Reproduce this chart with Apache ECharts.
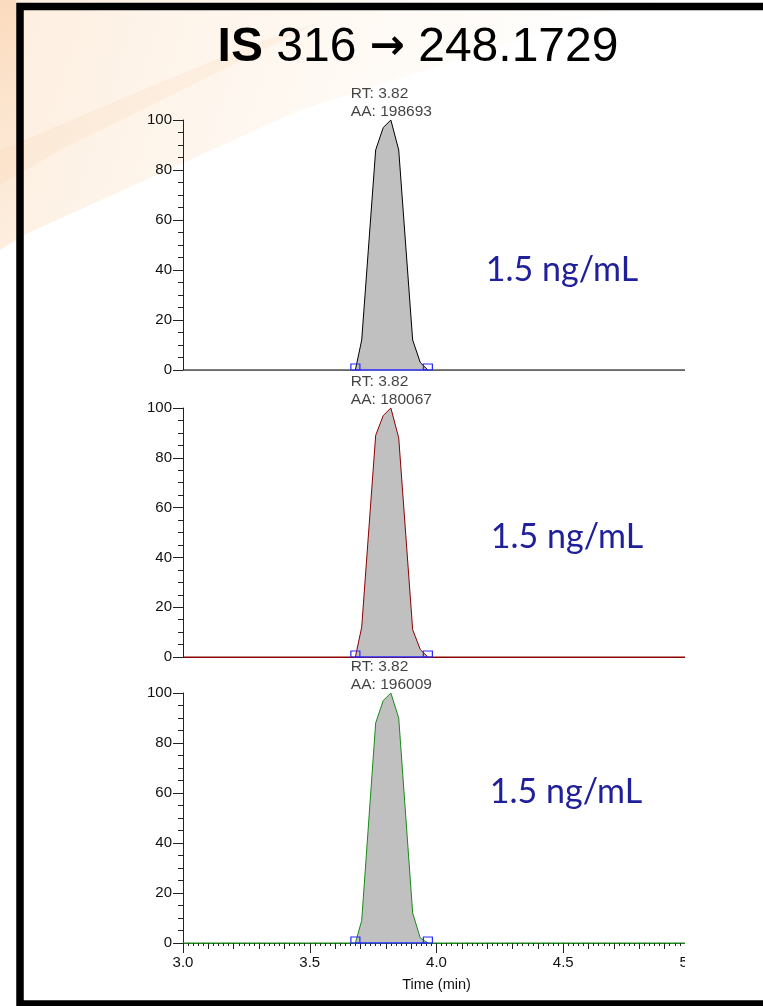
<!DOCTYPE html>
<html>
<head>
<meta charset="utf-8">
<script src="https://cdn.jsdelivr.net/npm/echarts@6/dist/echarts.min.js"></script>
<style>
  html, body { margin: 0; padding: 0; background: #fff; }
  #main { width: 763px; height: 1006px; }
</style>
</head>
<body>
<div id="main"></div>
<script>
  // retention time (min) of the trace vertices
  const timeList = [3.0, 3.68, 3.705, 3.76, 3.79, 3.82, 3.851, 3.906, 3.936, 3.966, 5.0];
  // relative abundance (%) for the three injections
  const traceTop = [0, 0, 12, 88, 97, 100, 88, 12, 3, 0, 0];
  const traceMid = [0, 0, 12, 89, 97, 100, 88, 11, 3, 0, 0];
  const traceBot = [0, 0, 9, 88, 97, 100, 90, 12, 2, 0, 0];
  // integration limits
  const peakStart = 3.68;
  const peakEnd = 3.966;
  const rtList = ['3.82', '3.82', '3.82'];
  const areaList = ['198693', '180067', '196009'];
  const concList = ['1.5 ng/mL', '1.5 ng/mL', '1.5 ng/mL'];
  const yTicks = [0, 20, 40, 60, 80, 100];
  const xTicks = [3.0, 3.5, 4.0, 4.5, 5.0];

  const FONT = '"Liberation Sans", Arial, sans-serif';
  const myChart = echarts.init(document.getElementById('main'), null, { renderer: 'canvas' });

  const panels = [
    { top: 120, height: 250, data: traceTop, color: '#000000', axisColor: '#888888', offset: 2, txt: [562, 270] },
    { top: 408, height: 249, data: traceMid, color: '#8b0000', axisColor: '#8b0000', offset: 0, txt: [567, 537] },
    { top: 693, height: 250, data: traceBot, color: '#1a8a1a', axisColor: '#1a8a1a', offset: 0, txt: [566, 792] }
  ];

  let grid = [], xAxis = [], yAxis = [], series = [], texts = [];

  panels.forEach((p, i) => {
    grid.push({ left: 183, top: p.top, width: 507, height: p.height });

    xAxis.push({
      type: 'value', gridIndex: i, position: 'bottom', offset: p.offset,
      min: xTicks[0], max: xTicks[xTicks.length - 1],
      interval: i === 2 ? 0.1 : 0.5,
      axisLine: { show: true, lineStyle: { color: p.axisColor, width: 1 } },
      axisTick: { show: i === 2, length: 6, lineStyle: { color: '#222' } },
      minorTick: { show: i === 2, splitNumber: 5, length: 3, lineStyle: { color: '#222' } },
      axisLabel: { show: false },
      splitLine: { show: false }
    });

    yAxis.push({
      type: 'value', gridIndex: i,
      min: yTicks[0], max: yTicks[yTicks.length - 1], interval: 20,
      axisLine: { show: true, lineStyle: { color: '#222', width: 1 } },
      axisTick: { show: true, length: 10, lineStyle: { color: '#222' } },
      minorTick: { show: true, splitNumber: 4, length: 5, lineStyle: { color: '#222' } },
      axisLabel: { margin: 11, fontSize: 15, color: '#111', fontFamily: FONT },
      splitLine: { show: false }
    });

    series.push({
      type: 'line', xAxisIndex: i, yAxisIndex: i,
      data: timeList.map((t, k) => [t, p.data[k]]),
      symbol: 'none', silent: true, z: 3,
      lineStyle: { color: p.color, width: 1 },
      areaStyle: { color: '#c0c0c0', opacity: 1 }
    });

    // apex annotation
    let peakIdx = p.data.indexOf(Math.max(...p.data));
    series.push({
      type: 'scatter', xAxisIndex: i, yAxisIndex: i, silent: true, z: 5,
      data: [[timeList[peakIdx], p.data[peakIdx]]],
      symbolSize: 1, itemStyle: { color: 'rgba(0,0,0,0)' },
      label: {
        show: true, position: 'top', distance: -1, align: 'left', offset: [-40, 0],
        formatter: 'RT: ' + rtList[i] + '\nAA: ' + areaList[i],
        fontSize: 15.5, lineHeight: 18, color: '#111', fontFamily: FONT
      }
    });

    // integration baseline with start / end markers
    series.push({
      type: 'line', xAxisIndex: i, yAxisIndex: i,
      data: [[peakStart, 0], [peakEnd, 0]],
      symbol: 'rect', symbolSize: [9, 6], symbolOffset: [0, -3], showSymbol: true, silent: true, z: 4,
      itemStyle: { color: 'rgba(0,0,0,0)', borderColor: '#2a2aff', borderWidth: 1 },
      lineStyle: { color: '#2a2aff', width: 1.5 }
    });

    texts.push({
      type: 'text', x: p.txt[0], y: p.txt[1], z: 10,
      style: { text: concList[i], fill: '#20209a', font: '34px Lato, "Open Sans", sans-serif', textAlign: 'center', textVerticalAlign: 'middle' }
    });
  });

  // bottom axis with labels for the last panel
  xAxis.push({
    type: 'value', gridIndex: 2, position: 'bottom',
    min: xTicks[0], max: xTicks[xTicks.length - 1], interval: 0.5,
    axisLine: { show: false },
    axisTick: { show: true, length: 10, lineStyle: { color: '#222' } },
    axisLabel: { margin: 12, fontSize: 15, color: '#111', fontFamily: FONT, formatter: v => v.toFixed(1) },
    splitLine: { show: false },
    name: 'Time (min)', nameLocation: 'middle', nameGap: 34,
    nameTextStyle: { fontSize: 14.5, color: '#111', fontFamily: FONT }
  });

  let option = {
    animation: false,
    backgroundColor: '#ffffff',
    grid: grid,
    xAxis: xAxis,
    yAxis: yAxis,
    series: series,
    graphic: [
      // slide background wash (top-left)
      {
        type: 'polygon', z: -20, silent: true,
        shape: { points: [[0, 0], [763, 0], [763, 4], [600, 14], [300, 110], [24, 235], [0, 250]] },
        style: {
          fill: new echarts.graphic.LinearGradient(0, 0, 1, 1, [
            { offset: 0, color: 'rgba(250,205,160,0.35)' },
            { offset: 0.45, color: 'rgba(252,228,200,0.2)' },
            { offset: 1, color: 'rgba(255,255,255,0)' }
          ])
        }
      },
      {
        type: 'polygon', z: -19, silent: true,
        shape: { points: [[0, 150], [250, 45], [320, 22], [60, 150], [0, 185]] },
        style: { fill: 'rgba(245,180,120,0.10)' }
      },
      {
        type: 'polygon', z: -19, silent: true,
        shape: { points: [[0, 0], [16, 0], [16, 240], [0, 250]] },
        style: {
          fill: new echarts.graphic.LinearGradient(0, 0, 0, 1, [
            { offset: 0, color: 'rgba(248,195,150,0.45)' },
            { offset: 1, color: 'rgba(250,215,180,0.1)' }
          ])
        }
      },
      // crop of the right side
      {
        type: 'rect', z: 90, silent: true,
        shape: { x: 685, y: 11, width: 80, height: 988 },
        style: { fill: '#ffffff' }
      },
      // slide frame
      {
        type: 'rect', z: 100, silent: true,
        shape: { x: 20, y: 6.5, width: 800, height: 997.5 },
        style: { fill: 'none', stroke: '#000', lineWidth: 7.5 }
      },
      // title
      {
        type: 'text', x: 418, y: 48, z: 10,
        style: {
          text: '{b|IS} 316 {a|\u2192} 248.1729',
          font: '48px ' + FONT, fill: '#000',
          textAlign: 'center', textVerticalAlign: 'middle',
          rich: {
            b: { fontWeight: 'bold', fontSize: 48, fontFamily: FONT },
            a: { fontWeight: 'bold', fontSize: 42, fontFamily: '"DejaVu Sans", sans-serif' }
          }
        }
      }
    ].concat(texts)
  };

  myChart.setOption(option);
</script>
</body>
</html>
